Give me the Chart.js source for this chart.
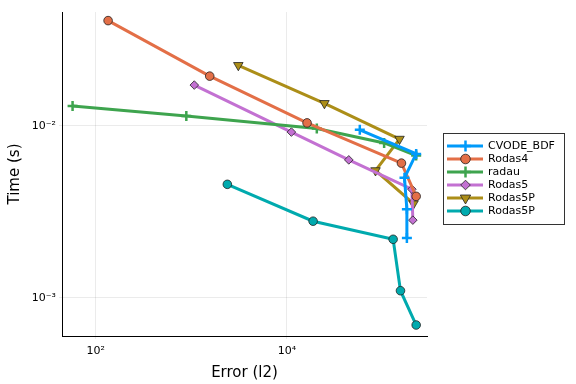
<!DOCTYPE html>
<html>
<head>
<meta charset="utf-8">
<script src="https://cdn.jsdelivr.net/npm/chart.js@4/dist/chart.umd.min.js"></script>
<style>
    html, body { margin: 0; padding: 0; background: #fff; }
    #chartBox { width: 576px; height: 384px; }
</style>
</head>
<body>
<div id="chartBox"><canvas id="workPrecisionChart"></canvas></div>
<script>
// series names, in legend order
const seriesNames = ['CVODE_BDF', 'Rodas4', 'radau', 'Rodas5', 'Rodas5P', 'Rodas5P'];

// error (l2) per series
const cvodeErr = [57900, 225000, 169800, 179900, 179900];
const rodas4Err = [135, 1560, 16260, 157800, 225000];
const radauErr = [57.4, 888, 20560, 104000, 225000];
const rodas5Err = [1076, 11150, 44400, 202800, 207600];
const rodas5pErr = [3107, 24700, 150600, 84500, 211000];
const rodas5pBErr = [2384, 18800, 129200, 154200, 225000];

// time (s) per series
const cvodeTime = [0.00948, 0.00687, 0.00499, 0.00327, 0.00223];
const rodas4Time = [0.0409, 0.01945, 0.0104, 0.00607, 0.00389];
const radauTime = [0.01304, 0.01142, 0.00966, 0.00795, 0.00672];
const rodas5Time = [0.01726, 0.0092, 0.00634, 0.00428, 0.00283];
const rodas5pTime = [0.02249, 0.01352, 0.00838, 0.0055, 0.00353];
const rodas5pBTime = [0.00457, 0.00279, 0.00219, 0.0011, 0.000695];

// axis ticks
const xTickValues = [100, 10000];
const xTickLabels = ['10²', '10⁴'];
const yTickValues = [0.001, 0.01];
const yTickLabels = ['10⁻³', '10⁻²'];

const seriesColors = ['#009AFA', '#E36F47', '#3EA44E', '#C371D2', '#AC8E18', '#00AAAE'];
const seriesMarkers = ['cross', 'circle', 'cross', 'rectRot', 'triangle', 'circle'];

function toPoints(xs, ys) {
    return xs.map((x, i) => ({ x: x, y: ys[i] }));
}

let allErr = [cvodeErr, rodas4Err, radauErr, rodas5Err, rodas5pErr, rodas5pBErr];
let allTime = [cvodeTime, rodas4Time, radauTime, rodas5Time, rodas5pTime, rodas5pBTime];

let dataSets = [];
for (let i = 0; i < seriesNames.length; i++) {
    let isCross = seriesMarkers[i] === 'cross';
    let isTri = seriesMarkers[i] === 'triangle';
    dataSets.push({
        label: seriesNames[i],
        data: toPoints(allErr[i], allTime[i]),
        showLine: true,
        tension: 0,
        borderColor: seriesColors[i],
        borderWidth: 3,
        backgroundColor: seriesColors[i],
        pointStyle: seriesMarkers[i],
        pointRotation: isTri ? 180 : 0,
        pointRadius: isCross ? 5 : (isTri ? 5.5 : 4.3),
        pointBackgroundColor: seriesColors[i],
        pointBorderColor: isCross ? seriesColors[i] : '#222',
        pointBorderWidth: isCross ? 2.5 : 0.8
    });
}

// legend drawn by hand: line + marker, boxed
const sideLegend = {
    id: 'sideLegend',
    afterDraw: function (chart) {
        let ctx = chart.ctx;
        let left = 443.5, top = 133.5, width = 121, height = 91;
        ctx.save();
        ctx.fillStyle = '#fff';
        ctx.fillRect(left, top, width, height);
        ctx.strokeStyle = '#333';
        ctx.lineWidth = 1;
        ctx.strokeRect(left, top, width, height);
        ctx.font = '11px "DejaVu Sans"';
        ctx.textBaseline = 'middle';
        chart.data.datasets.forEach(function (ds, i) {
            let y = 146 + i * 13;
            ctx.strokeStyle = ds.borderColor;
            ctx.lineWidth = 3;
            ctx.beginPath();
            ctx.moveTo(447, y);
            ctx.lineTo(483, y);
            ctx.stroke();
            ctx.fillStyle = ds.pointBackgroundColor;
            ctx.strokeStyle = ds.pointBorderColor;
            ctx.lineWidth = ds.pointBorderWidth;
            Chart.helpers.drawPoint(ctx, {
                pointStyle: ds.pointStyle,
                rotation: ds.pointRotation,
                radius: ds.pointRadius + 0.5,
                borderWidth: ds.pointBorderWidth
            }, 465.5, y);
            ctx.fillStyle = '#000';
            ctx.fillText(ds.label, 488, y + 0.5);
        });
        ctx.restore();
    }
};

new Chart(
    document.getElementById('workPrecisionChart'),
    {
        type: 'scatter',
        data: { datasets: dataSets },
        plugins: [sideLegend],
        options: {
            responsive: true,
            maintainAspectRatio: false,
            animation: false,
            layout: { padding: { top: 12, right: 149, left: 0, bottom: 0 } },
            plugins: {
                legend: { display: false },
                tooltip: { enabled: false }
            },
            scales: {
                x: {
                    type: 'logarithmic',
                    min: 44.5,
                    max: 292000,
                    afterBuildTicks: function (scale) {
                        scale.ticks = xTickValues.map(v => ({ value: v }));
                    },
                    afterFit: function (scale) { scale.height = 48; },
                    ticks: {
                        autoSkip: false,
                        maxRotation: 0,
                        color: '#000',
                        font: { family: 'DejaVu Sans', size: 11 },
                        padding: 6,
                        callback: function (value) {
                            let idx = xTickValues.indexOf(value);
                            return idx < 0 ? '' : xTickLabels[idx];
                        }
                    },
                    grid: { color: 'rgba(0,0,0,0.08)', lineWidth: 1, tickLength: 3 },
                    border: { color: '#000', width: 1 },
                    title: {
                        display: true,
                        text: 'Error (l2)',
                        color: '#000',
                        font: { family: 'DejaVu Sans', size: 15 },
                        padding: { top: 2, bottom: 2 }
                    }
                },
                y: {
                    type: 'logarithmic',
                    min: 0.000619,
                    max: 0.0459,
                    afterBuildTicks: function (scale) {
                        scale.ticks = yTickValues.map(v => ({ value: v }));
                    },
                    afterFit: function (scale) { scale.width = 62; },
                    ticks: {
                        autoSkip: false,
                        color: '#000',
                        font: { family: 'DejaVu Sans', size: 11 },
                        padding: 3,
                        callback: function (value) {
                            let idx = yTickValues.indexOf(value);
                            return idx < 0 ? '' : yTickLabels[idx];
                        }
                    },
                    grid: { color: 'rgba(0,0,0,0.08)', lineWidth: 1, tickLength: 3 },
                    border: { color: '#000', width: 1 },
                    title: {
                        display: true,
                        text: 'Time (s)',
                        color: '#000',
                        font: { family: 'DejaVu Sans', size: 15 },
                        padding: { top: 6, bottom: 4 }
                    }
                }
            }
        }
    }
);
</script>
</body>
</html>
